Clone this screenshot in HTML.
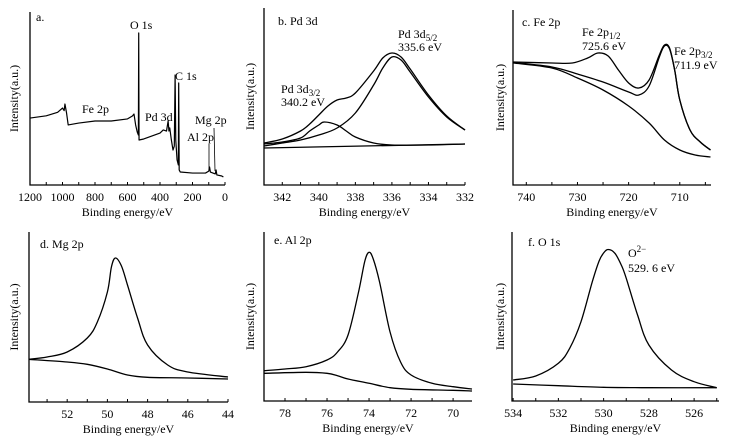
<!DOCTYPE html>
<html><head><meta charset="utf-8">
<style>
html,body{margin:0;padding:0;background:#fff;}
svg{display:block;}
text{fill:#000;font-family:"Liberation Serif","Times New Roman",serif;}
</style></head>
<body>
<svg id="fig" width="735" height="448" viewBox="0 0 735 448" xmlns="http://www.w3.org/2000/svg"></svg>
<script>
// ---------- data (binding energy eV, intensity a.u.) ----------
const surveyEnergy = [1200,1100,1030,1000,990,985,975,965,900,800,700,600,570,560,550,540,533,531,529,500,400,380,360,350,345,340,330,320,312,307,303,295,287,285,282,275,200,120,100,95,90,60,55,50,20,10];
const surveyIntensity = [38.7,40,42,44.5,43,46.8,41.6,34.7,35.8,37,37,38.2,39.9,41,34.7,30.6,28.9,87.9,26,26.6,30,31.8,31.2,37,31.2,33,26,20.2,22.5,63.6,26,14.5,11.6,59,8.7,7.5,6.9,6.9,8,10.4,7.5,6.4,8.7,5.8,5.2,4.6];

const pdEnergy = [343,342,341,340.5,340,339.5,339,338.5,338,337,336.5,336,335.5,335,334,333,332];
const pdEnvelope = [42,46,54,61,70,79,85,87,92,114,127,132,128,116,90,69,55];
const pd52Energy = [343,342,341,340,339,338,337,336.5,336,335.5,335,334,333,332];
const pd52 = [39,42,45,50,57,72,100,117,128,125,113,88,68,55];
const pd32Energy = [343,342,341,340.5,340,339.7,339,338.5,338,337,336,334,332];
const pd32 = [41,43,47,54,60,63,60,54,48,42,40,40,41];
const pdBgEnergy = [343,332];
const pdBg = [37,41];

const feEnergy = [742.5,735,731,728,726,724,722,720,718,716,714,713,712,711,710,708,706,704];
const feEnvelope = [123,122,122,127,132,129,115,102,97,105,130,140,137,115,85,55,43,35];
const feMidEnergy = [742.5,735,730,725,720,718,716,714,713,712,711,710,708,706,704];
const feMid = [122.5,118,111,103,93,90,99,128,139,136,115,85,55,43,35];
const feBgEnergy = [742.5,735,730,725,720,716,713,710,707,704];
const feBg = [122,117,107,95,79,62,45,35,30,28];

const mgEnergy = [53.9,53,52,51,50.5,50,49.8,49.6,49.3,49,48.5,48,47,46,44];
const mgEnvelope = [42.7,45,50,64,80,110,135,144,136,117,84,57,37,30,25];
const mgBgEnergy = [53.9,52,51,50,49,48,46,44];
const mgBg = [42.7,40,37.7,33,27,24.7,24,23];

const alEnergy = [79,78,77,76,75.5,75,74.5,74.2,74,73.8,73.5,73,72.5,72,71,70,69.1];
const alEnvelope = [30.3,32,34.3,41,49,66,109,140,148.7,142,119,69,39,26,17.7,14.3,12];
const alBgEnergy = [79,77,76,75.5,75,74,73,72,70,69.1];
const alBg = [27.7,28.7,27.7,25.3,22,17.7,13.3,11.7,10.7,10];

const oEnergy = [534,533,532,531.5,531,530.5,530.2,530,529.8,529.5,529.2,529,528.5,528,527,526,525];
const oEnvelope = [21,25,37.7,52.7,79.3,119.3,140,148,151.5,147.7,135,122.7,86,56,31,19.3,13.3];
const oBgEnergy = [534,532,530,528,525];
const oBg = [17,15.3,13.7,13.3,13.3];

const ticksA = [1200,1000,800,600,400,200,0];
const ticksB = [342,340,338,336,334,332];
const ticksC = [740,730,720,710];
const ticksD = [52,50,48,46,44];
const ticksE = [78,76,74,72,70];
const ticksF = [534,532,530,528,526];

// ---------- drawing ----------
const NS = "http://www.w3.org/2000/svg";
const svg = document.getElementById('fig');
function mk(tag, attrs, parent){const e=document.createElementNS(NS,tag);for(const k in attrs)e.setAttribute(k,attrs[k]);(parent||svg).appendChild(e);return e;}
function txt(parent,x,y,s,opts){const t=mk('text',Object.assign({x:x,y:y,'font-size':12,'font-family':'Liberation Serif, serif'},opts||{}),parent);t.innerHTML=s;return t;}

function smoothPath(pts){
  let d='M'+pts[0][0].toFixed(2)+','+pts[0][1].toFixed(2);
  for(let i=0;i<pts.length-1;i++){
    const p0=pts[Math.max(i-1,0)],p1=pts[i],p2=pts[i+1],p3=pts[Math.min(i+2,pts.length-1)];
    const t=0.17;
    const c1=[p1[0]+(p2[0]-p0[0])*t,p1[1]+(p2[1]-p0[1])*t];
    const c2=[p2[0]-(p3[0]-p1[0])*t,p2[1]-(p3[1]-p1[1])*t];
    d+='C'+c1[0].toFixed(2)+','+c1[1].toFixed(2)+' '+c2[0].toFixed(2)+','+c2[1].toFixed(2)+' '+p2[0].toFixed(2)+','+p2[1].toFixed(2);
  }
  return d;
}
function linePath(pts){return 'M'+pts.map(p=>p[0].toFixed(2)+','+p[1].toFixed(2)).join('L');}

function panel(cfg){
  const g=mk('g',{});
  
  
  const xs=v=>cfg.x0+(cfg.dom[0]-v)/(cfg.dom[0]-cfg.dom[1])*(cfg.x1-cfg.x0);
  const ys=v=>cfg.yb-v*(cfg.yk||1);
  const ax=mk('path',{d:'M'+cfg.x0+','+cfg.yt+'V'+cfg.yb+'H'+cfg.x1,fill:'none',stroke:'#000','stroke-width':1.3},g);
  
  
  const lo=Math.min(cfg.dom[0],cfg.dom[1]),hi=Math.max(cfg.dom[0],cfg.dom[1]);
  for(let v=Math.ceil(lo/cfg.minor)*cfg.minor; v<=hi+1e-9; v+=cfg.minor){
    const x=xs(v);
    const tk=mk('line',{x1:x,x2:x,y1:cfg.yb,y2:cfg.yb-3,stroke:'#000','stroke-width':1},g);
    
    
  }
  cfg.ticks.forEach(v=>{
    const t=txt(g,xs(v),cfg.yb+16,String(v),{'text-anchor':'middle'});
    
    
  });
  const xt=txt(g,(cfg.x0+cfg.x1)/2,cfg.yb+31,'Binding energy/eV',{'text-anchor':'middle'});
  
  
  const ytY=(cfg.yt+cfg.yb)/2;
  const yt=txt(g,cfg.ytx,ytY,'Intensity(a.u.)',{'text-anchor':'middle',transform:'rotate(-90 '+cfg.ytx+' '+ytY+')'});
  
  
  cfg.series.forEach(s=>{
    const pts=s.e.map((e,i)=>[xs(e),ys(s.v[i])]);
    const p=mk('path',{d:s.straight?linePath(pts):smoothPath(pts),fill:'none',stroke:'#000','stroke-width':s.w||1.3,'stroke-linejoin':'round'},g);
    
    
  });
  return {g,xs,ys};
}

// a. survey
const pa=panel({name:'panel-a-survey',x0:30,x1:225,yt:12,yb:185,yk:1.73,dom:[1200,0],ticks:ticksA,minor:100,ytx:18,
  series:[{name:'survey-spectrum',e:surveyEnergy,v:surveyIntensity,straight:true,w:1.2}]});
[['a.',36,21,'panel-label'],['O 1s',130,29,'o1s-label'],['C 1s',175,80,'c1s-label'],['Fe 2p',82,113,'fe2p-label'],['Pd 3d',145,121,'pd3d-label'],['Mg 2p',195,124,'mg2p-label'],['Al 2p',187,141,'al2p-label']].forEach(l=>{
  const t=txt(pa.g,l[1],l[2],l[0]);
  
  
});
const l1=mk('line',{x1:209,y1:144,x2:209,y2:171,stroke:'#000','stroke-width':0.8},pa.g);


const l2=mk('line',{x1:214,y1:128,x2:215,y2:171,stroke:'#000','stroke-width':0.8},pa.g);



// b. Pd 3d
const pb=panel({name:'panel-b-pd3d',x0:264,x1:465,yt:8,yb:185,dom:[343,332],ticks:ticksB,minor:1,ytx:254,
  series:[{name:'pd-background',e:pdBgEnergy,v:pdBg,straight:true},{name:'pd3d32-component',e:pd32Energy,v:pd32},{name:'pd3d52-component',e:pd52Energy,v:pd52},{name:'pd-envelope',e:pdEnergy,v:pdEnvelope}]});
[['b. Pd 3d',278,25,'panel-label'],['Pd 3d<tspan font-size="9" dy="3">5/2</tspan>',398,38,'pd52-label'],['335.6 eV',398,51,'pd52-energy'],['Pd 3d<tspan font-size="9" dy="3">3/2</tspan>',281,93,'pd32-label'],['340.2 eV',281,106,'pd32-energy']].forEach(l=>{
  const t=txt(pb.g,l[1],l[2],l[0]);
  
  
});

// c. Fe 2p
const pc=panel({name:'panel-c-fe2p',x0:513,x1:711,yt:10,yb:185,dom:[742.6,703.9],ticks:ticksC,minor:5,ytx:504,
  series:[{name:'fe-background',e:feBgEnergy,v:feBg},{name:'fe2p32-component',e:feMidEnergy,v:feMid},{name:'fe-envelope',e:feEnergy,v:feEnvelope}]});
[['c. Fe 2p',522,26,'panel-label'],['Fe 2p<tspan font-size="9" dy="3">1/2</tspan>',582,36,'fe12-label'],['725.6 eV',582,50,'fe12-energy'],['Fe 2p<tspan font-size="9" dy="3">3/2</tspan>',674,55,'fe32-label'],['711.9 eV',674,69,'fe32-energy']].forEach(l=>{
  const t=txt(pc.g,l[1],l[2],l[0]);
  
  
});

// d. Mg 2p
const pd=panel({name:'panel-d-mg2p',x0:29,x1:228,yt:232,yb:402,dom:[53.9,44],ticks:ticksD,minor:1,ytx:18,
  series:[{name:'mg-background',e:mgBgEnergy,v:mgBg},{name:'mg-envelope',e:mgEnergy,v:mgEnvelope}]});
const td=txt(pd.g,40,248,'d. Mg 2p');



// e. Al 2p
const pe=panel({name:'panel-e-al2p',x0:264,x1:472,yt:232,yb:401,dom:[79,69.1],ticks:ticksE,minor:1,ytx:254,
  series:[{name:'al-background',e:alBgEnergy,v:alBg},{name:'al-envelope',e:alEnergy,v:alEnvelope}]});
const te=txt(pe.g,274,244,'e. Al 2p');



// f. O 1s
const pf=panel({name:'panel-f-o1s',x0:512,x1:719,yt:232,yb:401,dom:[534.05,524.9],ticks:ticksF,minor:1,ytx:504,
  series:[{name:'o-background',e:oBgEnergy,v:oBg},{name:'o-envelope',e:oEnergy,v:oEnvelope}]});
[['f. O 1s',528,246,'panel-label'],['O<tspan font-size="9" dy="-5">2−</tspan>',628,257,'o2-label'],['529. 6 eV',628,272,'o2-energy']].forEach(l=>{
  const t=txt(pf.g,l[1],l[2],l[0]);
  
  
});
</script>
</body></html>
